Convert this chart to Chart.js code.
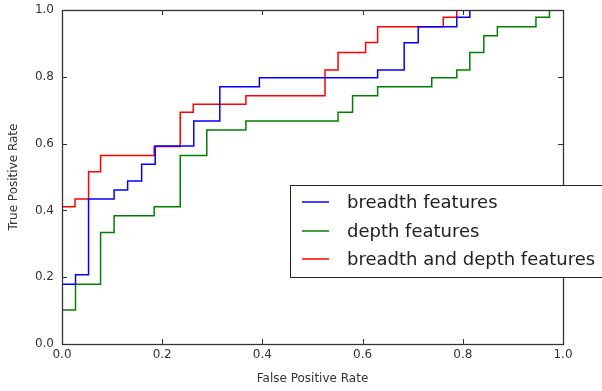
<!DOCTYPE html>
<html>
<head>
<meta charset="utf-8">
<script src="https://cdn.jsdelivr.net/npm/chart.js@4.4.1/dist/chart.umd.min.js"></script>
<style>
  html, body { margin: 0; padding: 0; background: #fff; }
  #wrap { width: 602px; height: 391px; }
</style>
</head>
<body>
<div id="wrap"><canvas id="roc"></canvas></div>
<script>
// ROC curves (fpr where each level starts, tpr level)
const seriesNames = ["breadth features", "depth features", "breadth and depth features"];
const seriesColors = ["#0000ff", "#008000", "#ff0000"];

const breadthFpr = [0, 0.027, 0.053, 0.104, 0.131, 0.159, 0.186, 0.263, 0.315, 0.394, 0.630, 0.683, 0.711, 0.788, 0.814, 1.0];
const breadthTpr = [0.179, 0.207, 0.434, 0.461, 0.488, 0.538, 0.593, 0.668, 0.770, 0.797, 0.820, 0.902, 0.950, 0.978, 1.0, 1.0];

const depthFpr = [0, 0, 0.027, 0.077, 0.104, 0.184, 0.236, 0.289, 0.367, 0.551, 0.580, 0.630, 0.738, 0.788, 0.814, 0.842, 0.869, 0.946, 0.973, 1.0];
const depthTpr = [0, 0.102, 0.179, 0.334, 0.384, 0.411, 0.564, 0.641, 0.668, 0.694, 0.743, 0.770, 0.797, 0.820, 0.873, 0.923, 0.950, 0.978, 1.0, 1.0];

const bothFpr = [0, 0.026, 0.053, 0.077, 0.184, 0.236, 0.262, 0.367, 0.525, 0.551, 0.606, 0.630, 0.761, 0.788, 1.0];
const bothTpr = [0.411, 0.434, 0.516, 0.564, 0.591, 0.694, 0.718, 0.743, 0.820, 0.873, 0.903, 0.950, 0.978, 1.0, 1.0];

const axisTicks = [0, 0.2, 0.4, 0.6, 0.8, 1.0];

function toPoints(xs, ys) {
  return xs.map((x, i) => ({ x: x, y: ys[i] }));
}

const fpr = [breadthFpr, depthFpr, bothFpr];
const tpr = [breadthTpr, depthTpr, bothTpr];

const datasets = seriesNames.map((name, i) => ({
  label: name,
  data: toPoints(fpr[i], tpr[i]),
  showLine: true,
  stepped: "before",
  borderColor: seriesColors[i],
  backgroundColor: seriesColors[i],
  borderWidth: 1.5,
  pointRadius: 0,
  fill: false,
}));

// frame + inward ticks on all four sides, like matplotlib classic
const framePlugin = {
  id: "frame",
  afterDatasetsDraw(chart) {
    const { ctx, chartArea: a, scales } = chart;
    ctx.save();
    ctx.strokeStyle = "#333";
    ctx.lineWidth = 1;
    const len = 5;
    ctx.beginPath();
    for (const v of axisTicks) {
      const px = Math.round(scales.x.getPixelForValue(v)) + 0.5;
      const py = Math.round(scales.y.getPixelForValue(v)) + 0.5;
      ctx.moveTo(px, a.bottom); ctx.lineTo(px, a.bottom - len);
      ctx.moveTo(px, a.top); ctx.lineTo(px, a.top + len);
      ctx.moveTo(a.left, py); ctx.lineTo(a.left + len, py);
      ctx.moveTo(a.right, py); ctx.lineTo(a.right - len, py);
    }
    ctx.stroke();
    ctx.lineWidth = 1.3;
    ctx.strokeRect(Math.round(a.left) + 0.5, Math.round(a.top) + 0.5,
      Math.round(a.right - a.left), Math.round(a.bottom - a.top));
    ctx.restore();
  },
};

// boxed legend sitting over the lower right of the plot
const boxLegend = {
  id: "boxLegend",
  afterDraw(chart, args, opts) {
    const { ctx } = chart;
    ctx.save();
    ctx.fillStyle = "#fff";
    ctx.fillRect(opts.x, opts.y, opts.w, opts.h);
    ctx.strokeStyle = "#222";
    ctx.lineWidth = 1;
    ctx.strokeRect(opts.x + 0.5, opts.y + 0.5, opts.w, opts.h);
    ctx.font = "18px 'DejaVu Sans'";
    ctx.textBaseline = "middle";
    chart.data.datasets.forEach((ds, i) => {
      const cy = opts.rowY[i];
      ctx.strokeStyle = ds.borderColor;
      ctx.lineWidth = 1.5;
      ctx.beginPath();
      ctx.moveTo(opts.x + 12, cy);
      ctx.lineTo(opts.x + 39, cy);
      ctx.stroke();
      ctx.fillStyle = "#222";
      ctx.fillText(ds.label, opts.x + 57, cy + 1);
    });
    ctx.restore();
  },
};

new Chart(document.getElementById("roc"), {
  type: "scatter",
  data: { datasets },
  plugins: [framePlugin, boxLegend],
  options: {
    responsive: true,
    maintainAspectRatio: false,
    animation: false,
    layout: { padding: { left: 0, top: 10, right: 39, bottom: 0 } },
    plugins: {
      legend: { display: false },
      tooltip: { enabled: false },
      boxLegend: { x: 290, y: 185, w: 330, h: 92, rowY: [202, 231, 259] },
    },
    scales: {
      x: {
        type: "linear",
        min: 0,
        max: 1,
        afterBuildTicks: (s) => { s.ticks = axisTicks.map((v) => ({ value: v })); },
        afterFit: (s) => { s.height = 47; s.paddingLeft = 0; s.paddingRight = 0; },
        grid: { display: false, drawTicks: false },
        border: { display: false },
        ticks: {
          padding: 4,
          color: "#333",
          font: { family: "DejaVu Sans", size: 12 },
          callback: (v) => v.toFixed(1),
        },
        title: {
          display: true,
          text: "False Positive Rate",
          color: "#333",
          font: { family: "DejaVu Sans", size: 12 },
          padding: { top: 0, bottom: 5 },
        },
      },
      y: {
        type: "linear",
        min: 0,
        max: 1,
        afterBuildTicks: (s) => { s.ticks = axisTicks.map((v) => ({ value: v })); },
        afterFit: (s) => { s.width = 62; s.paddingTop = 0; s.paddingBottom = 0; },
        grid: { display: false, drawTicks: false },
        border: { display: false },
        ticks: {
          padding: 8,
          color: "#333",
          font: { family: "DejaVu Sans", size: 12 },
          callback: (v) => v.toFixed(1),
        },
        title: {
          display: true,
          text: "True Positive Rate",
          color: "#333",
          font: { family: "DejaVu Sans", size: 12 },
          padding: { top: 7, bottom: 0 },
        },
      },
    },
  },
});
</script>
</body>
</html>
